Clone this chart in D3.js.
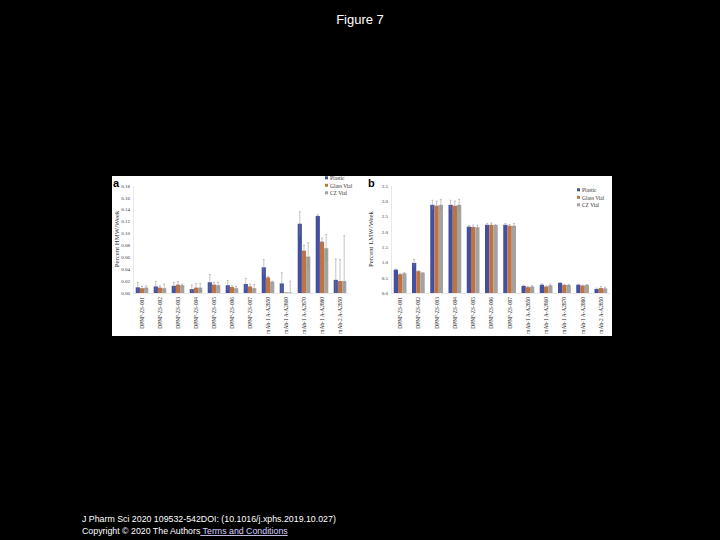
<!DOCTYPE html>
<html>
<head>
<meta charset="utf-8">
<title>Figure 7</title>
<style type="text/css">
  body{margin:0;background:#000;}
  svg{display:block;}
</style>
</head>
<body>
<div id='graph-container'></div>
<script src="https://cdn.jsdelivr.net/npm/d3@7"></script>
<script type="text/javascript">

// ---- data ----
var series = ['Plastic', 'Glass Vial', 'CZ Vial']
var colors = ['#44509f', '#c0723f', '#a3a3a3']

var labelsA = ['DPNF-ZS-001','DPNF-ZS-002','DPNF-ZS-003','DPNF-ZS-004','DPNF-ZS-005','DPNF-ZS-006','DPNF-ZS-007',
  'mAb-1 A-A2850','mAb-1 A-A2860','mAb-1 A-A2870','mAb-1 A-A2880','mAb-2 A-A2850']
var plasticA = [0.0095,0.011,0.012,0.0065,0.018,0.013,0.015,0.043,0.016,0.116,0.129,0.022]
var glassA   = [0.008,0.009,0.014,0.009,0.014,0.010,0.011,0.026,0.001,0.071,0.086,0.020]
var czA      = [0.009,0.008,0.013,0.009,0.013,0.008,0.008,0.019,0.001,0.061,0.075,0.020]
var plasticErrA = [0.0085,0.0085,0.006,0.007,0.013,0.008,0.0095,0.013,0.018,0.020,0.002,0.035]
var glassErrA   = [0.003,0.003,0.005,0.0066,0.004,0.002,0.004,0.002,0.000,0.009,0.006,0.036]
var czErrA      = [0.003,0.007,0.002,0.007,0.005,0.003,0.006,0.001,0.019,0.023,0.023,0.076]
var ticksA = [0,0.02,0.04,0.06,0.08,0.10,0.12,0.14,0.16,0.18]

var labelsB = ['DPNF-ZS-001','DPNF-ZS-002','DPNF-ZS-003','DPNF-ZS-004','DPNF-ZS-005','DPNF-ZS-006','DPNF-ZS-007',
  'mAb-1 A-A2850','mAb-1 A-A2860','mAb-1 A-A2870','mAb-1 A-A2880','mAb-2 A-A2850']
var plasticB = [0.76,0.98,2.87,2.87,2.16,2.22,2.22,0.23,0.27,0.33,0.27,0.13]
var glassB   = [0.61,0.71,2.84,2.84,2.15,2.22,2.19,0.19,0.21,0.26,0.24,0.16]
var czB      = [0.64,0.66,2.87,2.87,2.14,2.21,2.19,0.21,0.25,0.26,0.26,0.15]
var plasticErrB = [0.02,0.12,0.15,0.15,0.04,0.05,0.04,0.02,0.03,0.02,0.02,0.03]
var glassErrB   = [0.02,0.02,0.15,0.15,0.06,0.06,0.04,0.02,0.02,0.02,0.02,0.05]
var czErrB      = [0.02,0.01,0.18,0.18,0.07,0.02,0.07,0.03,0.04,0.02,0.02,0.04]
var ticksB = [0,0.5,1.0,1.5,2.0,2.5,3.0,3.5]

var W = 720, H = 540
var svg = d3.select('#graph-container').append('svg')
  .attr('width', W).attr('height', H)
svg.append('rect').attr('width', W).attr('height', H).attr('fill', '#000')

svg.append('text')
  .attr('x', 360).attr('y', 24)
  .attr('text-anchor', 'middle')
  .attr('fill', '#fff')
  .style('font-family', 'Liberation Sans, Arial, sans-serif')
  .style('font-size', '13px')
  .text('Figure 7')

// white figure plate
svg.append('rect')
  .attr('x', 112).attr('y', 176).attr('width', 500).attr('height', 160)
  .attr('fill', '#fff')

function drawPanel(opt){
  var x = d3.scaleBand().domain(opt.labels).range(opt.xr).paddingInner(0.3).paddingOuter(0.15)
  var xs = d3.scaleBand().domain(series).range([0, x.bandwidth()])
  var y = d3.scaleLinear().domain(opt.ydom).range([293, 185.5])
  var g = svg.append('g')
  var rows = opt.labels.map(function(l, i){
    return series.map(function(s, k){
      return {label: l, s: s, k: k, v: opt.vals[k][i], e: opt.errs[k][i]}
    })
  })
  var flat = [].concat.apply([], rows)

  // y axis
  var ya = g.append('g').attr('transform', 'translate(' + opt.xr[0] + ',0)')
    .call(d3.axisLeft(y).tickValues(opt.ticks).tickFormat(d3.format(opt.fmt)).tickSize(0).tickPadding(3))
  ya.select('.domain').attr('stroke', '#d9d9d9').attr('stroke-width', 0.6)
  ya.selectAll('text').attr('fill', '#333')
    .style('font-family', 'Liberation Serif, serif').style('font-size', '5px')

  g.selectAll('rect.bar').data(flat).enter().append('rect')
    .attr('class', 'bar')
    .attr('x', function(d){ return x(d.label) + xs(d.s) })
    .attr('width', xs.bandwidth())
    .attr('y', function(d){ return y(d.v) })
    .attr('height', function(d){ return y(0) - y(d.v) })
    .attr('fill', function(d){ return colors[d.k] })

  // error bars
  var eb = g.selectAll('g.err').data(flat.filter(function(d){ return d.e > 0 })).enter().append('g')
    .attr('class', 'err')
    .attr('stroke', '#8a8a8a').attr('stroke-width', 0.5)
  eb.append('line')
    .attr('x1', function(d){ return x(d.label) + xs(d.s) + xs.bandwidth()/2 })
    .attr('x2', function(d){ return x(d.label) + xs(d.s) + xs.bandwidth()/2 })
    .attr('y1', function(d){ return y(Math.max(0, d.v - d.e)) })
    .attr('y2', function(d){ return y(d.v + d.e) })
  eb.append('line')
    .attr('x1', function(d){ return x(d.label) + xs(d.s) + xs.bandwidth()/2 - 1 })
    .attr('x2', function(d){ return x(d.label) + xs(d.s) + xs.bandwidth()/2 + 1 })
    .attr('y1', function(d){ return y(d.v + d.e) })
    .attr('y2', function(d){ return y(d.v + d.e) })

  // x axis
  var xa = g.append('g').attr('transform', 'translate(0,' + y(0) + ')')
    .call(d3.axisBottom(x).tickSize(0).tickPadding(0))
  xa.select('.domain').attr('stroke', '#d9d9d9').attr('stroke-width', 0.6)
  xa.selectAll('text')
    .attr('transform', 'rotate(-90)')
    .attr('text-anchor', 'end')
    .attr('dy', '0.35em').attr('dx', '-4px').attr('y', 0)
    .attr('fill', '#222')
    .style('font-family', 'Liberation Serif, serif').style('font-size', '5.4px')

  // axis title
  g.append('text')
    .attr('transform', 'translate(' + opt.titleX + ',' + 239 + ') rotate(-90)')
    .attr('text-anchor', 'middle')
    .attr('fill', '#333')
    .style('font-family', 'Liberation Serif, serif').style('font-size', '6.8px')
    .text(opt.title)

  // panel letter
  g.append('text')
    .attr('x', opt.letterX).attr('y', 187)
    .attr('fill', '#000')
    .style('font-family', 'Liberation Sans, Arial, sans-serif')
    .style('font-weight', 'bold').style('font-size', '11px')
    .text(opt.letter)

  // legend
  var lg = g.selectAll('g.leg').data(series).enter().append('g')
    .attr('class', 'leg')
    .attr('transform', function(d, i){ return 'translate(' + opt.legX + ',' + (opt.legY + i*7.5) + ')' })
  lg.append('rect').attr('x', 0).attr('y', -2.2).attr('width', 3).attr('height', 3)
    .attr('fill', function(d, i){ return colors[i] })
  lg.append('text').attr('x', 5).attr('y', 1.6)
    .attr('fill', '#333')
    .style('font-family', 'Liberation Serif, serif').style('font-size', '5.4px')
    .text(function(d){ return d })
}

drawPanel({
  labels: labelsA, vals: [plasticA, glassA, czA], errs: [plasticErrA, glassErrA, czErrA],
  xr: [133, 349], ydom: [0, 0.18], ticks: ticksA, fmt: '.2f',
  title: 'Percent HMW/Week', titleX: 119, letter: 'a', letterX: 113,
  legX: 325, legY: 178.5
})
drawPanel({
  labels: labelsB, vals: [plasticB, glassB, czB], errs: [plasticErrB, glassErrB, czErrB],
  xr: [391, 610], ydom: [0, 3.5], ticks: ticksB, fmt: '.1f',
  title: 'Percent LMW/Week', titleX: 373, letter: 'b', letterX: 368,
  legX: 577, legY: 190.5
})

// footer
var foot = svg.append('g')
  .style('font-family', 'Liberation Sans, Arial, sans-serif')
  .style('font-size', '8.8px')
foot.append('text').attr('x', 82).attr('y', 522).attr('fill', '#fff')
  .text('J Pharm Sci 2020 109532-542DOI: (10.1016/j.xphs.2019.10.027)')
var cp = foot.append('text').attr('x', 82).attr('y', 534).attr('fill', '#fff')
cp.append('tspan').text('Copyright © 2020 The Authors')
cp.append('tspan').attr('fill', '#d8d0ff').attr('text-decoration', 'underline').text(' Terms and Conditions')

</script>
</body>
</html>
